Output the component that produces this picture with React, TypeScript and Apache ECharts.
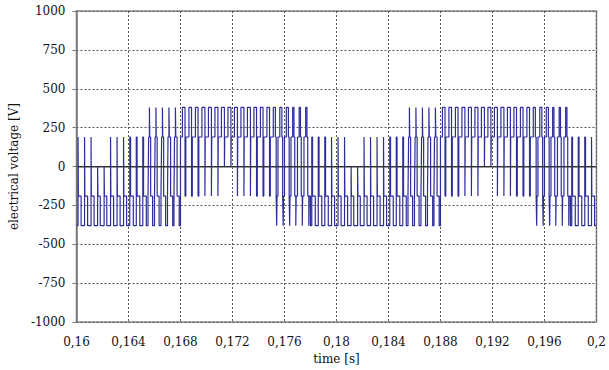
import React, { useEffect, useRef } from "react";
import * as echarts from "echarts";

// Inverter phase voltage, 2 kHz switching, 50 Hz fundamental.
const T_START = 0.16;
const T_END = 0.2;
const SWITCH_PERIOD = 0.0005;

// Level sequences within one switching period: [voltage V, share of period %]
const negEdge: [number, number][] = [[-380, 24], [190, 5], [-190, 42], [-380, 29]];
const negNear: [number, number][] = [[-380, 20], [190, 12], [-190, 42], [-380, 26]];
const negPeak: [number, number][] = [[-380, 25], [0, 5], [-190, 36], [-380, 34]];
const riseA: [number, number][] = [[-190, 10], [190, 12], [380, 5], [190, 14], [-190, 30], [-380, 29]];
const riseB: [number, number][] = [[-190, 8], [190, 14], [380, 6], [190, 20], [-190, 32], [-380, 20]];
const posNear: [number, number][] = [[190, 30], [380, 40], [-190, 12], [190, 18]];
const pos: [number, number][] = [[190, 30], [380, 46], [-190, 5], [190, 19]];
const posPeak: [number, number][] = [[190, 30], [380, 46], [0, 5], [190, 19]];
const fallA: [number, number][] = [[190, 28], [380, 32], [190, 12], [-190, 8], [-380, 5], [-190, 15]];
const fallB: [number, number][] = [[190, 26], [380, 20], [190, 12], [-190, 16], [-380, 6], [-190, 20]];

// Consecutive switching periods using each sequence
const periodRuns: [[number, number][], number][] = [
  [negEdge, 3], [negPeak, 2], [negEdge, 3], [negNear, 3],
  [riseA, 3], [riseB, 2],
  [posNear, 3], [pos, 3], [posPeak, 2], [pos, 3], [posNear, 3],
  [fallA, 3], [fallB, 3],
  [negNear, 3], [negEdge, 3], [negPeak, 2], [negEdge, 4], [negNear, 3],
  [riseA, 3], [riseB, 2],
  [posNear, 3], [pos, 3], [posPeak, 2], [pos, 3], [posNear, 3],
  [fallA, 3], [fallB, 3],
  [negNear, 3], [negEdge, 1],
];

const yTicks = { min: -1000, max: 1000, step: 250 };
const xTicks = { min: 0.16, max: 0.2, step: 0.004 };

function buildWaveform(): [number, number][] {
  const pts: [number, number][] = [];
  let k = 0;
  for (const [seq, count] of periodRuns) {
    for (let i = 0; i < count; i++) {
      const t0 = T_START + k * SWITCH_PERIOD;
      let acc = 0;
      for (const [level, share] of seq) {
        const a = t0 + (acc / 100) * SWITCH_PERIOD;
        acc += share;
        const b = t0 + (acc / 100) * SWITCH_PERIOD;
        pts.push([a, level], [Math.min(b, T_END), level]);
      }
      k++;
    }
  }
  return pts;
}

export default function App() {
  const ref = useRef<HTMLDivElement>(null);
  useEffect(() => {
    if (!ref.current) return;
    const chart = echarts.init(ref.current, undefined, { renderer: "svg" });
    const font = "'DejaVu Serif', 'Liberation Serif', serif";
    chart.setOption({
      animation: false,
      backgroundColor: "#ffffff",
      grid: {
        left: 73,
        right: 10,
        top: 11,
        bottom: 43,
        show: true,
        borderColor: "#8a8a8a",
        borderWidth: 1.5,
        containLabel: false,
      },
      xAxis: {
        type: "value",
        min: xTicks.min,
        max: xTicks.max,
        interval: xTicks.step,
        name: "time [s]",
        nameLocation: "middle",
        nameGap: 29,
        nameTextStyle: { fontFamily: font, fontSize: 12, color: "#111" },
        axisLine: { show: true, lineStyle: { color: "#7a7a7a", width: 1.5 } },
        axisTick: { show: false },
        axisLabel: {
          fontFamily: font,
          fontSize: 12,
          color: "#111",
          margin: 14,
          showMinLabel: true,
          showMaxLabel: true,
          formatter: (v: number) => String(Number(v.toFixed(3))).replace(".", ","),
        },
        splitLine: { show: true, lineStyle: { color: "#555", type: [2, 2], width: 1 } },
      },
      yAxis: {
        type: "value",
        min: yTicks.min,
        max: yTicks.max,
        interval: yTicks.step,
        name: "electrical voltage [V]",
        nameLocation: "middle",
        nameGap: 51,
        nameTextStyle: { fontFamily: font, fontSize: 12, color: "#111" },
        axisLine: { show: true, lineStyle: { color: "#7a7a7a", width: 1.5 } },
        axisTick: { show: true, inside: false, length: 4, lineStyle: { color: "#7a7a7a" } },
        axisLabel: {
          fontFamily: font,
          fontSize: 12,
          color: "#111",
          margin: 11,
          formatter: (v: number) => String(v),
        },
        splitLine: { show: true, lineStyle: { color: "#555", type: [2, 2], width: 1 } },
      },
      series: [
        {
          type: "line",
          data: buildWaveform(),
          showSymbol: false,
          symbol: "none",
          lineStyle: { color: "#2e2e9a", width: 1.2 },
          markLine: {
            silent: true,
            symbol: "none",
            label: { show: false },
            lineStyle: { color: "#333", type: "solid", width: 1 },
            data: [{ yAxis: 0 }],
          },
        },
      ],
    });
    return () => chart.dispose();
  }, []);
  return (
    <div
      ref={ref}
      style={{ position: "fixed", left: 0, top: 0, width: 609, height: 370 }}
    />
  );
}
